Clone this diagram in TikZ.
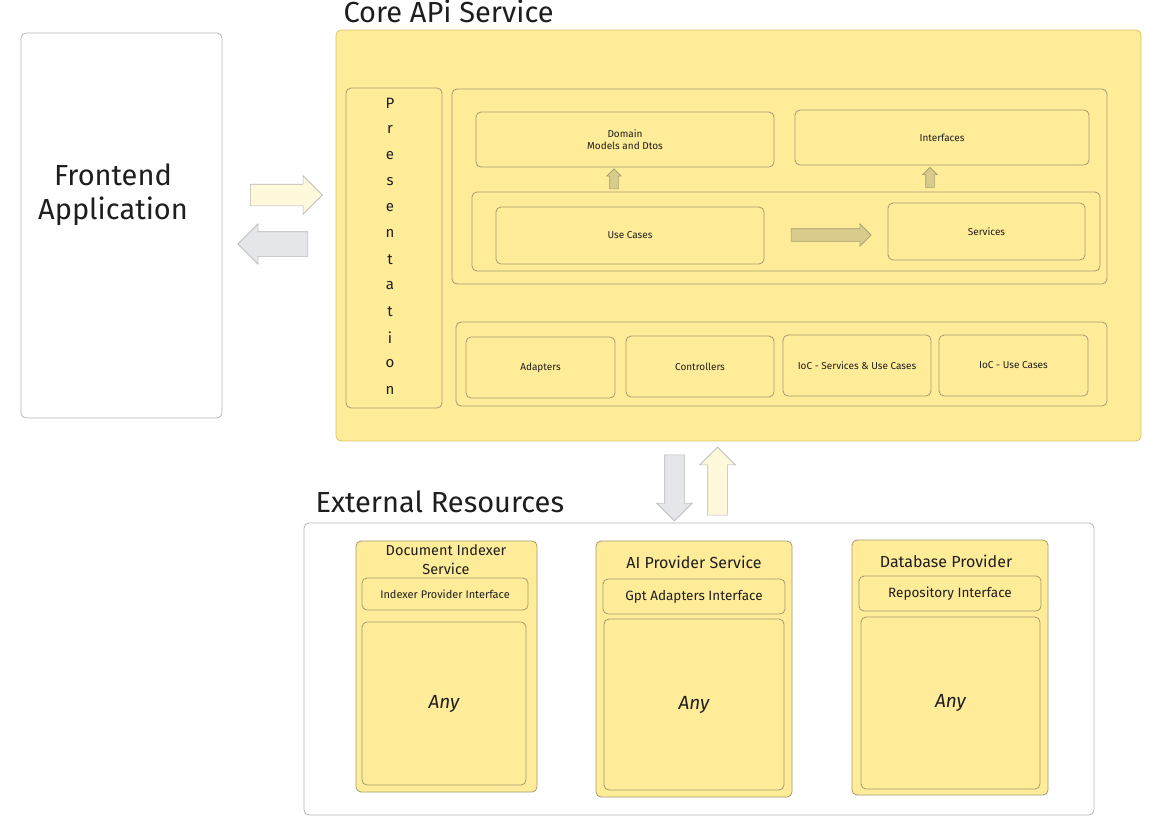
\documentclass[tikz,border=0pt]{standalone}
\usepackage{fontspec}
\setmainfont{Fira Sans}
\usepackage{tikz}
\usetikzlibrary{shapes.arrows}

\definecolor{padyellow}{HTML}{FFEC99}
\definecolor{padline}{HTML}{A39A70}
\definecolor{coreline}{HTML}{D9C36A}
\definecolor{greyline}{HTML}{B5B5B5}
\definecolor{creamfill}{HTML}{FFF9DB}
\definecolor{greyfill}{HTML}{E4E6E9}
\definecolor{tanfill}{HTML}{D8CB8C}
\definecolor{ink}{HTML}{1E1E1E}

\tikzset{
  ybox/.style={draw=padline, line width=0.8pt, fill=padyellow, rounded corners=5pt, inner sep=0pt, text=ink},
  wbox/.style={draw=greyline, line width=0.8pt, fill=white, rounded corners=5pt, inner sep=0pt, text=ink},
  tiny/.style={font=\fontsize{10}{12}\selectfont, align=center},
  mid/.style={font=\fontsize{13.5}{16}\selectfont, align=center},
  head/.style={font=\fontsize{16}{19}\selectfont, align=center, text=ink},
  big/.style={font=\fontsize{29}{34}\selectfont, text=ink},
  fat/.style={single arrow, draw=greyline, line width=0.6pt}
}

\begin{document}
\begin{tikzpicture}[x=1pt, y=-1pt]
            \useasboundingbox (0,0) rectangle (1161,819);

            % frontend
            \node[wbox, minimum width=201, minimum height=385] (front) at (121.5,225.5) {};
            \node[big, align=center] (fronttxt) at (113,195) {Frontend\\Application};

            % core api service
            \node[big, anchor=base west] (coretitle) at (340,23) {Core APi Service};
            \node[ybox, draw=coreline, minimum width=805, minimum height=411] (core) at (738.5,235.5) {};
            \node[ybox, minimum width=96, minimum height=320] (pres) at (394,248) {};
            \foreach \l [count=\i from 0] in {P,r,e,s,e,n,t,a,t,i,o,n}
                \node[font=\fontsize{15}{15}\selectfont, text=ink] (pres\i) at (390,103+\i*26.1) {\l};

            \node[ybox, minimum width=655, minimum height=195] (upper) at (779.5,186.5) {};
            \node[ybox, tiny, minimum width=298, minimum height=55] (domain) at (625,139.5) {Domain\\Models and Dtos};
            \node[ybox, tiny, minimum width=294, minimum height=55] (ifaces) at (942,137.5) {Interfaces};
            \node[ybox, minimum width=628, minimum height=79] (ucrow) at (786,231.5) {};
            \node[ybox, tiny, minimum width=268, minimum height=57] (usecases) at (630,235.5) {Use Cases};
            \node[ybox, tiny, minimum width=197, minimum height=57] (services) at (986.5,231.5) {Services};

            \node[fat, fill=tanfill, draw=padline, minimum height=80, inner sep=6pt, single arrow head extend=5pt] (ucarrow) at (828,235) {};
            \node[fat, fill=tanfill, draw=padline, shape border rotate=90, minimum height=20, inner sep=4pt, single arrow head extend=3pt] (uparrowa) at (614,181) {};
            \node[fat, fill=tanfill, draw=padline, shape border rotate=90, minimum height=20, inner sep=4pt, single arrow head extend=3pt] (uparrowb) at (930,179.5) {};

            \node[ybox, minimum width=651, minimum height=84] (lower) at (781.5,364) {};
            \node[ybox, tiny, minimum width=149, minimum height=61] (adapters) at (540.5,367.5) {Adapters};
            \node[ybox, tiny, minimum width=148, minimum height=61] (ctrls) at (700,366.5) {Controllers};
            \node[ybox, tiny, minimum width=148, minimum height=61] (iocsu) at (857,365.5) {IoC - Services \& Use Cases};
            \node[ybox, tiny, minimum width=149, minimum height=61] (iocu) at (1013.5,365.5) {IoC - Use Cases};

            % arrows frontend <-> core
            \node[fat, fill=creamfill, minimum height=72, inner sep=10.5pt, single arrow head extend=8.5pt] (toapi) at (281,195) {};
            \node[fat, fill=greyfill, shape border rotate=180, minimum height=70, inner sep=12pt, single arrow head extend=8pt] (tofront) at (279,244) {};

            % arrows core <-> external
            \node[fat, fill=greyfill, shape border rotate=270, minimum height=66, inner sep=9.5pt, single arrow head extend=8pt] (toext) at (674.5,483) {};
            \node[fat, fill=creamfill, shape border rotate=90, minimum height=68, inner sep=9.5pt, single arrow head extend=8pt] (fromext) at (717.5,486) {};

            % external resources
            \node[big, anchor=base west] (exttitle) at (312,512) {External Resources};
            \node[wbox, minimum width=790, minimum height=292] (ext) at (699,669) {};

            \node[ybox, minimum width=181, minimum height=251] (docidx) at (446.5,666.5) {};
            \node[head, font=\fontsize{14.5}{19}\selectfont] (docidxtxt) at (446,559.5) {Document Indexer\\Service};
            \node[ybox, minimum width=166, minimum height=32, font=\fontsize{11}{13}\selectfont] (docif) at (445,594) {Indexer Provider Interface};
            \node[ybox, minimum width=164, minimum height=163, font=\fontsize{19}{22}\selectfont\itshape] (docany) at (444,703.5) {Any};

            \node[ybox, minimum width=196, minimum height=256] (ai) at (694,669) {};
            \node[head] (aitxt) at (694,562) {AI Provider Service};
            \node[ybox, mid, minimum width=182, minimum height=35] (aiif) at (694,596.5) {Gpt Adapters Interface};
            \node[ybox, minimum width=180, minimum height=171, font=\fontsize{19}{22}\selectfont\itshape] (aiany) at (694,704.5) {Any};

            \node[ybox, minimum width=196, minimum height=255] (db) at (950,667.5) {};
            \node[head] (dbtxt) at (946,561) {Database Provider};
            \node[ybox, mid, minimum width=182, minimum height=35] (dbif) at (950,593.5) {Repository Interface};
            \node[ybox, minimum width=179, minimum height=172, font=\fontsize{19}{22}\selectfont\itshape] (dbany) at (950.5,703) {Any};
        \end{tikzpicture}
\end{document}
